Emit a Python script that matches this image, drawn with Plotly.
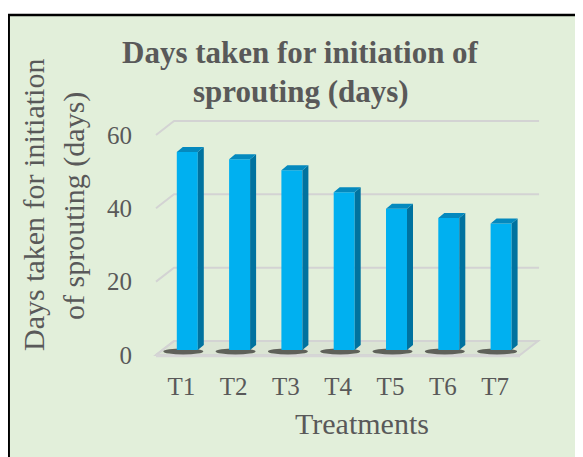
import numpy as np
import plotly.graph_objects as go

# ---------------- data ----------------
categories = ["T1", "T2", "T3", "T4", "T5", "T6", "T7"]
days = [54.0, 52.0, 49.0, 43.0, 38.5, 36.0, 34.5]
y_ticks = [0, 20, 40, 60]

# ---------------- geometry / style ----------------
W, H = 583, 457
OFF = 8         # page body margin (screen px)
PX_X = 52.3     # pixels per category step
PX_Y = 3.667    # pixels per day
X0_PX = 187.3   # screen x of first category
Y0_PX = 355.0   # screen y of value 0 (front edge)

def px(x):
    return (x - OFF) / W

def py(y):
    return 1 - (y - OFF) / H

bar_w = 21 / PX_X
bar_dx = 6 / PX_X
bar_dy = 5 / PX_Y
base = 5 / PX_Y
wall_dx = 18 / PX_X
wall_dy = 14 / PX_Y
floor_l = (156 - X0_PX) / PX_X
floor_r = (520 - X0_PX) / PX_X

FRONT = "#00B0F0"
SIDE = "#00729F"
TOP = "#0489BE"
GRID = "#D3D3D3"
TEXT = "#595959"
BG = "#E2EFDA"
FONT = "Liberation Serif"

shapes = [dict(type="rect", xref="paper", yref="paper", layer="below",
               x0=px(8.7), x1=px(800), y0=py(15), y1=py(800),
               fillcolor=BG, line=dict(color="black", width=2.5))]

# back wall and side wall gridlines
for v in y_ticks:
    shapes.append(dict(type="path", xref="x", yref="y", layer="below",
                       path=f"M {floor_l},{v} L {floor_l + wall_dx},{v + wall_dy} "
                            f"L {floor_r + wall_dx + 0.02},{v + wall_dy}",
                       line=dict(color=GRID, width=2)))

# floor
shapes.append(dict(type="path", xref="x", yref="y", layer="below",
                   path=f"M {floor_l},0 L {floor_r},0 L {floor_r + wall_dx},{wall_dy} "
                        f"L {floor_l + wall_dx},{wall_dy} Z",
                   fillcolor="rgba(205,212,200,0.35)", line=dict(color=GRID, width=2)))
shapes.append(dict(type="line", xref="x", yref="y", layer="below",
                   x0=floor_l, x1=floor_r, y0=-0.2, y1=-0.2,
                   line=dict(color="#D6D6D6", width=3)))

# shadows under bars
for i, v in enumerate(days):
    cx = i - 4 / PX_X
    shapes.append(dict(type="circle", xref="x", yref="y", layer="below",
                       x0=cx - 20 / PX_X, x1=cx + 20 / PX_X,
                       y0=base - 0.4 - 3 / PX_Y, y1=base - 0.4 + 3 / PX_Y,
                       fillcolor="rgba(60,60,55,0.78)", line=dict(width=0)))

fig = go.Figure()

# front faces
fig.add_trace(go.Bar(x=list(range(len(categories))), y=days, base=base, width=bar_w,
                     marker=dict(color=FRONT, line=dict(width=0)),
                     hoverinfo="skip", showlegend=False))

# side faces
sx, sy = [], []
for i, v in enumerate(days):
    r = i + bar_w / 2
    sx += [r, r + bar_dx, r + bar_dx, r, r, None]
    sy += [base, base + bar_dy, base + v + bar_dy, base + v, base, None]
fig.add_trace(go.Scatter(x=sx, y=sy, mode="lines", line=dict(width=0),
                         fill="toself", fillcolor=SIDE,
                         hoverinfo="skip", showlegend=False))

# top faces
tx, ty = [], []
for i, v in enumerate(days):
    l, r = i - bar_w / 2, i + bar_w / 2
    top = base + v
    tx += [l, r, r + bar_dx, l + bar_dx, l, None]
    ty += [top, top, top + bar_dy, top + bar_dy, top, None]
fig.add_trace(go.Scatter(x=tx, y=ty, mode="lines", line=dict(width=0),
                         fill="toself", fillcolor=TOP,
                         hoverinfo="skip", showlegend=False))

fig.update_layout(
    width=W, height=H,
    margin=dict(l=0, r=0, t=0, b=0),
    paper_bgcolor="white",
    plot_bgcolor="rgba(0,0,0,0)",
    font=dict(family=FONT, color=TEXT),
    xaxis=dict(
        domain=[0, 1],
        range=[(OFF - X0_PX) / PX_X, (OFF + W - X0_PX) / PX_X],
        tickvals=list(range(len(categories))), ticktext=categories,
        tickfont=dict(size=25, color=TEXT, family=FONT),
        ticklabelshift=-6,
        anchor="free", position=py(369),
        showgrid=False, zeroline=False, showline=False, ticks="",
        automargin=False, fixedrange=True,
    ),
    yaxis=dict(
        domain=[0, 1],
        range=[(Y0_PX - OFF - H) / PX_Y, (Y0_PX - OFF) / PX_Y],
        tickvals=y_ticks,
        tickfont=dict(size=25, color=TEXT, family=FONT),
        anchor="free", position=px(132),
        showgrid=False, zeroline=False, showline=False, ticks="",
        automargin=False, fixedrange=True,
    ),
    shapes=shapes,
    annotations=[
        dict(text="<b>Days taken for initiation of</b>", x=px(300), y=py(53),
             xref="paper", yref="paper", showarrow=False, xanchor="center", yanchor="middle",
             font=dict(size=31, color=TEXT, family=FONT)),
        dict(text="<b>sprouting (days)</b>", x=px(301), y=py(91),
             xref="paper", yref="paper", showarrow=False, xanchor="center", yanchor="middle",
             font=dict(size=31, color=TEXT, family=FONT)),
        dict(text="Days taken for initiation", x=px(34), y=py(205), textangle=-90,
             xref="paper", yref="paper", showarrow=False, xanchor="center", yanchor="middle",
             font=dict(size=30, color=TEXT, family=FONT)),
        dict(text="of sprouting (days)", x=px(74), y=py(206), textangle=-90,
             xref="paper", yref="paper", showarrow=False, xanchor="center", yanchor="middle",
             font=dict(size=30, color=TEXT, family=FONT)),
        dict(text="Treatments", x=px(362), y=py(423),
             xref="paper", yref="paper", showarrow=False, xanchor="center", yanchor="middle",
             font=dict(size=30, color=TEXT, family=FONT)),
    ],
)

fig.write_html("out.html")
